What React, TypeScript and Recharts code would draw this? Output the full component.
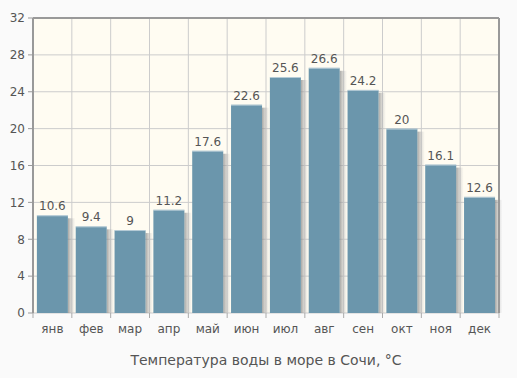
import React from "react";
import {
  BarChart, Bar, XAxis, YAxis, CartesianGrid, LabelList, ReferenceLine,
} from "recharts";

const months = ["янв", "фев", "мар", "апр", "май", "июн", "июл", "авг", "сен", "окт", "ноя", "дек"];
const waterTemp = [10.6, 9.4, 9, 11.2, 17.6, 22.6, 25.6, 26.6, 24.2, 20, 16.1, 12.6];
const yTicks = [0, 4, 8, 12, 16, 20, 24, 28, 32];

const data = months.map((m, i) => ({ month: m, value: waterTemp[i] }));

const FONT = "'DejaVu Sans', Verdana, sans-serif";
const TEXT = "#555";
const TICK_SIZE = 6;
const TICK_MARGIN = 5;

// bar with a soft shadow on its right side
const ShadowBar = (props: any) => {
  const { x, y, width, height, fill } = props;
  if (!height || height <= 0) return null;
  return (
    <g>
      <rect x={x + width} y={y + 3} width={7} height={height - 3} fill="url(#barShadow)" />
      <rect x={x} y={y} width={width} height={height} fill={fill} />
      <line x1={x} y1={y + 0.5} x2={x + width} y2={y + 0.5} stroke="#fff" strokeOpacity={0.5} />
    </g>
  );
};

// month label plus small tick marks on the slot boundaries
const MonthTick = (props: any) => {
  const { x, y, payload, index } = props;
  const half = payload && payload.offset ? payload.offset : 19.4;
  const axisY = y - TICK_SIZE - TICK_MARGIN;
  return (
    <g>
      <line x1={x - half} y1={axisY} x2={x - half} y2={axisY + 5} stroke="#aaa" />
      {index === months.length - 1 && (
        <line x1={x + half} y1={axisY} x2={x + half} y2={axisY + 5} stroke="#aaa" />
      )}
      <text x={x} y={y} dy="0.71em" textAnchor="middle" fill={TEXT} fontSize={12} fontFamily={FONT}>
        {payload.value}
      </text>
    </g>
  );
};

const slotBoundaries = ({ offset }: any) =>
  Array.from({ length: months.length + 1 }, (_, i) => offset.left + (i * offset.width) / months.length);

export default function App() {
  return (
    <div style={{ position: "fixed", left: 0, top: 0, width: 517, height: 378, background: "#fafafa", fontFamily: FONT }}>
      <BarChart
        width={517}
        height={378}
        data={data}
        margin={{ top: 18, right: 17, left: 0, bottom: 0 }}
        barCategoryGap="10%"
      >
        <defs>
          <linearGradient id="barShadow" x1="0" y1="0" x2="1" y2="0">
            <stop offset="0%" stopColor="#8a8a8a" stopOpacity={0.75} />
            <stop offset="100%" stopColor="#cccccc" stopOpacity={0.1} />
          </linearGradient>
        </defs>
        <CartesianGrid stroke="#cccccc" fill="#fffcf2" verticalCoordinatesGenerator={slotBoundaries} />
        <XAxis
          dataKey="month"
          height={65}
          axisLine={false}
          tickLine={false}
          tickSize={TICK_SIZE}
          tickMargin={TICK_MARGIN}
          tick={<MonthTick />}
          interval={0}
          label={{ value: "Температура воды в море в Сочи, °C", position: "insideBottom", offset: 13, fontSize: 14, fill: TEXT, fontFamily: FONT }}
        />
        <YAxis
          domain={[0, 32]}
          ticks={yTicks}
          width={33}
          tickSize={5}
          tickMargin={3}
          axisLine={{ stroke: "#999", strokeWidth: 2 }}
          tickLine={{ stroke: "#999" }}
          tick={{ fontSize: 12, fill: TEXT, fontFamily: FONT }}
        />
        {/* right-hand frame of the plot */}
        <YAxis
          yAxisId="frame"
          orientation="right"
          domain={[0, 32]}
          allowDataOverflow
          width={1}
          tick={false}
          tickLine={false}
          axisLine={{ stroke: "#999", strokeWidth: 2 }}
        />
        <ReferenceLine y={32} stroke="#999" strokeWidth={2} />
        <Bar dataKey="value" fill="#6b96ac" shape={ShadowBar} isAnimationActive={false}>
          <LabelList dataKey="value" position="top" offset={5} fill={TEXT} fontSize={12} fontFamily={FONT} />
        </Bar>
      </BarChart>
    </div>
  );
}
